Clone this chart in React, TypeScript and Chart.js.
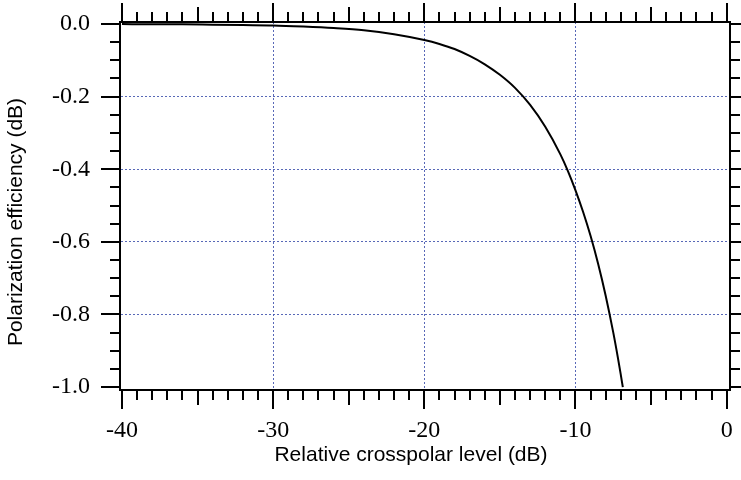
import { useEffect, useRef } from 'react';
import { Chart, registerables } from 'chart.js';

Chart.register(...registerables);

// Relative crosspolar level (dB)
const crosspolarDb = [
  -40, -38, -36, -34, -32, -30, -28, -26, -24, -22, -20, -19, -18, -17, -16, -15,
  -14, -13, -12, -11, -10.5, -10, -9.5, -9, -8.5, -8, -7.5, -7.2, -7, -6.87,
];
// Polarization efficiency (dB) at those levels
const efficiencyDb = [
  0.0, -0.001, -0.001, -0.002, -0.003, -0.004, -0.007, -0.011, -0.017, -0.028, -0.044,
  -0.055, -0.069, -0.088, -0.111, -0.14, -0.176, -0.223, -0.283, -0.359, -0.405, -0.458,
  -0.517, -0.584, -0.661, -0.749, -0.85, -0.918, -0.967, -1.0,
];

const xTickValues = [-40, -30, -20, -10, 0];
const yTickValues = [0, -0.2, -0.4, -0.6, -0.8, -1.0];
const xTitle = 'Relative crosspolar level (dB)';
const yTitle = 'Polarization efficiency (dB)';

const X_MIN = -40.13;
const X_MAX = 0.22;
const Y_MIN = -1.008;
const Y_MAX = 0.0055;

const GRID_COLOR = 'rgba(70, 88, 175, 0.9)';
const SERIF = "'Liberation Serif', 'Times New Roman', serif";
const SANS = "'Liberation Sans', Arial, sans-serif";

const noPad = (s: any) => {
  s.paddingTop = 0;
  s.paddingBottom = 0;
  s.paddingLeft = 0;
  s.paddingRight = 0;
};

const axisDecor = {
  id: 'axisDecor',
  afterDraw(chart: any) {
    const { ctx, chartArea: a, scales } = chart;
    const xs = scales.x;
    const ys = scales.y;
    ctx.save();
    ctx.strokeStyle = '#000';
    ctx.lineWidth = 2;
    ctx.lineCap = 'butt';
    ctx.beginPath();
    for (let k = -40; k <= 0; k++) {
      const len = k % 10 === 0 ? 19 : k % 5 === 0 ? 15 : 10;
      const px = Math.round(xs.getPixelForValue(k));
      ctx.moveTo(px, a.bottom);
      ctx.lineTo(px, a.bottom + len);
      ctx.moveTo(px, a.top);
      ctx.lineTo(px, a.top - len);
    }
    for (let k = 0; k <= 20; k++) {
      const len = k % 4 === 0 ? 19 : 10;
      const py = Math.round(ys.getPixelForValue(-k * 0.05));
      ctx.moveTo(a.left, py);
      ctx.lineTo(a.left - len, py);
      ctx.moveTo(a.right, py);
      ctx.lineTo(a.right + len, py);
    }
    ctx.stroke();

    ctx.fillStyle = '#000';
    ctx.font = `21px ${SANS}`;
    ctx.textAlign = 'center';
    ctx.textBaseline = 'alphabetic';
    ctx.fillText(xTitle, (a.left + a.right) / 2 - 14, 461);

    ctx.translate(22, (a.top + a.bottom) / 2 + 16);
    ctx.rotate(-Math.PI / 2);
    ctx.fillText(yTitle, 0, 0);
    ctx.restore();
  },
};

export default function App() {
  const canvasRef = useRef<HTMLCanvasElement | null>(null);

  useEffect(() => {
    document.body.style.margin = '0';
    const canvas = canvasRef.current;
    if (!canvas) return;
    const points = crosspolarDb.map((x, i) => ({ x, y: efficiencyDb[i] }));

    const hideEdge = (edgeA: number, edgeB: number) => (c: any) => {
      const v = c.tick ? c.tick.value : null;
      if (v === null) return 'rgba(0,0,0,0)';
      return Math.abs(v - edgeA) < 1e-6 || Math.abs(v - edgeB) < 1e-6 ? 'rgba(0,0,0,0)' : GRID_COLOR;
    };

    const chart = new Chart(canvas, {
      type: 'line',
      data: {
        datasets: [
          {
            data: points,
            borderColor: '#000',
            borderWidth: 2,
            pointRadius: 0,
            fill: false,
            cubicInterpolationMode: 'monotone',
            xAxisID: 'x',
            yAxisID: 'y',
          },
        ],
      },
      options: {
        responsive: false,
        animation: false,
        layout: { padding: 0 },
        plugins: { legend: { display: false }, tooltip: { enabled: false } },
        scales: {
          x: {
            type: 'linear',
            position: 'bottom',
            min: X_MIN,
            max: X_MAX,
            afterBuildTicks: (s: any) => {
              s.ticks = xTickValues.map((v) => ({ value: v }));
            },
            afterFit: (s: any) => {
              s.height = 90;
              noPad(s);
            },
            ticks: {
              callback: (v: any) => String(v),
              font: { family: SERIF, size: 24 },
              color: '#000',
              padding: 26,
              maxRotation: 0,
              autoSkip: false,
            },
            grid: { drawTicks: false, color: hideEdge(-40, 0), lineWidth: 1 },
            border: { display: true, color: '#000', width: 2, dash: [2, 2] },
          },
          x2: {
            type: 'linear',
            position: 'top',
            min: X_MIN,
            max: X_MAX,
            afterFit: (s: any) => {
              s.height = 22;
              noPad(s);
            },
            ticks: { display: false },
            grid: { display: false, drawTicks: false },
            border: { display: true, color: '#000', width: 2 },
          },
          y: {
            type: 'linear',
            position: 'left',
            min: Y_MIN,
            max: Y_MAX,
            afterBuildTicks: (s: any) => {
              s.ticks = yTickValues.map((v) => ({ value: v }));
            },
            afterFit: (s: any) => {
              s.width = 120;
              noPad(s);
            },
            ticks: {
              callback: (v: any) => Number(v).toFixed(1),
              font: { family: SERIF, size: 24 },
              color: '#000',
              padding: 30,
              autoSkip: false,
            },
            grid: { drawTicks: false, color: hideEdge(0, -1), lineWidth: 1 },
            border: { display: true, color: '#000', width: 2, dash: [2, 2] },
          },
          y2: {
            type: 'linear',
            position: 'right',
            min: Y_MIN,
            max: Y_MAX,
            afterFit: (s: any) => {
              s.width = 11;
              noPad(s);
            },
            ticks: { display: false },
            grid: { display: false, drawTicks: false },
            border: { display: true, color: '#000', width: 2 },
          },
        },
      },
      plugins: [axisDecor],
    } as any);

    return () => chart.destroy();
  }, []);

  return (
    <div style={{ width: 741, height: 480 }}>
      <canvas ref={canvasRef} width={741} height={480} style={{ display: 'block', width: 741, height: 480 }} />
    </div>
  );
}
